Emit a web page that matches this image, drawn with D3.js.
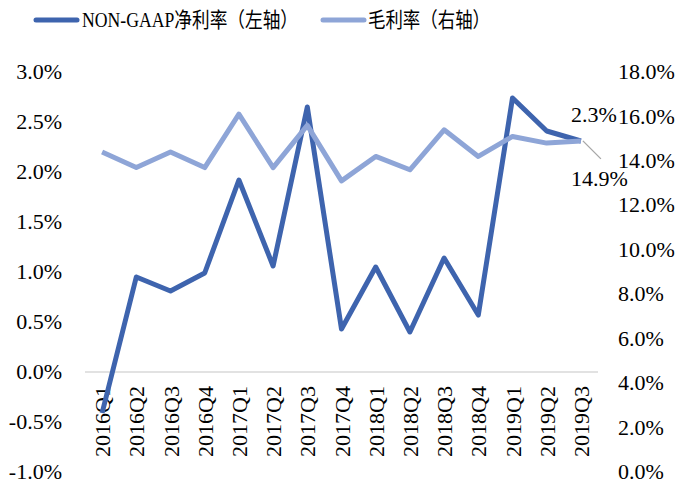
<!DOCTYPE html>
<html>
<head>
<meta charset="utf-8">
<script src="https://cdn.jsdelivr.net/npm/d3@7"></script>
<style>
  body { margin: 0; background: #fff; }
  svg text { font-family: "Liberation Serif", "Times New Roman", "DejaVu Serif", "Noto Sans CJK SC", serif; fill: #000; }
</style>
</head>
<body>
<svg id="chart" width="680" height="489"></svg>
<script>
const quarters = ["2016Q1", "2016Q2", "2016Q3", "2016Q4", "2017Q1", "2017Q2", "2017Q3", "2017Q4",
  "2018Q1", "2018Q2", "2018Q3", "2018Q4", "2019Q1", "2019Q2", "2019Q3"];
// NON-GAAP net margin, % (left axis)
const netMargin = [-0.41, 0.95, 0.81, 0.99, 1.92, 1.06, 2.65, 0.43, 1.05, 0.40, 1.14, 0.57, 2.74, 2.41, 2.31];
// gross margin, % (right axis)
const grossMargin = [14.4, 13.7, 14.4, 13.7, 16.1, 13.7, 15.6, 13.1, 14.2, 13.6, 15.4, 14.2, 15.1, 14.8, 14.9];
const leftTicks = [-1.0, -0.5, 0, 0.5, 1.0, 1.5, 2.0, 2.5, 3.0];
const rightTicks = [0, 2, 4, 6, 8, 10, 12, 14, 16, 18];
const legendNames = ["NON-GAAP净利率（左轴）", "毛利率（右轴）"];

const darkBlue = "#3e64ae";
const lightBlue = "#8ea5d7";
const serif = '"Liberation Serif", "Times New Roman", "DejaVu Serif", "Noto Sans CJK SC", serif';

const svg = d3.select("#chart");
const x = d3.scaleBand().domain(quarters).range([85, 598]);
const yL = d3.scaleLinear().domain([-1, 3]).range([472, 72]);
const yR = d3.scaleLinear().domain([0, 18]).range([472, 72]);
const cx = (d) => x(d) + x.bandwidth() / 2;

// zero line
svg.append("line")
  .attr("x1", 85).attr("x2", 598)
  .attr("y1", yL(0)).attr("y2", yL(0))
  .attr("stroke", "#d9d9d9").attr("stroke-width", 1.5);

// left axis
svg.append("g")
  .attr("transform", "translate(62,0)")
  .call(d3.axisLeft(yL).tickValues(leftTicks).tickSize(0).tickPadding(0)
    .tickFormat((d) => d.toFixed(1) + "%"))
  .call((g) => g.select(".domain").remove())
  .attr("font-family", serif)
  .selectAll("text")
  .attr("font-size", 22).attr("dy", "0.3em");

// right axis
svg.append("g")
  .attr("transform", "translate(618,0)")
  .call(d3.axisRight(yR).tickValues(rightTicks).tickSize(0).tickPadding(0)
    .tickFormat((d) => d.toFixed(1) + "%"))
  .call((g) => g.select(".domain").remove())
  .attr("font-family", serif)
  .selectAll("text")
  .attr("font-size", 22).attr("dy", "0.3em");

// category labels, rotated
svg.append("g")
  .selectAll("text")
  .data(quarters)
  .join("text")
  .attr("transform", (d) => `translate(${cx(d) + 8},386) rotate(-90)`)
  .attr("text-anchor", "end")
  .attr("font-size", 22)
  .text((d) => d);

// lines (gross margin drawn on top)
const lineL = d3.line().x((d, i) => cx(quarters[i])).y((d) => yL(d));
const lineR = d3.line().x((d, i) => cx(quarters[i])).y((d) => yR(d));

svg.append("path")
  .attr("d", lineL(netMargin))
  .attr("fill", "none").attr("stroke", darkBlue)
  .attr("stroke-width", 5).attr("stroke-linejoin", "round");

svg.append("path")
  .attr("d", lineR(grossMargin))
  .attr("fill", "none").attr("stroke", lightBlue)
  .attr("stroke-width", 5).attr("stroke-linejoin", "round");

// data labels for the last quarter
const last = quarters.length - 1;
const lx = cx(quarters[last]);
svg.append("text")
  .attr("x", lx - 10).attr("y", yL(netMargin[last]) - 19)
  .attr("font-size", 22)
  .text(netMargin[last].toFixed(1) + "%");

svg.append("line")
  .attr("x1", lx + 2).attr("y1", yR(grossMargin[last]))
  .attr("x2", lx + 20).attr("y2", yR(grossMargin[last]) + 18)
  .attr("stroke", "#a6a6a6").attr("stroke-width", 1.3);
svg.append("text")
  .attr("x", lx - 10).attr("y", yR(grossMargin[last]) + 45)
  .attr("font-size", 22)
  .text(grossMargin[last].toFixed(1) + "%");

// legend (text squeezed to the reference widths)
const legend = [
  { name: legendNames[0], color: darkBlue, x0: 36, w: 216 },
  { name: legendNames[1], color: lightBlue, x0: 323, w: 122 },
];
const lg = svg.append("g").selectAll("g").data(legend).join("g")
  .attr("transform", (d) => `translate(${d.x0},20)`);
lg.append("line")
  .attr("x1", 0).attr("x2", 41)
  .attr("stroke", (d) => d.color).attr("stroke-width", 5).attr("stroke-linecap", "round");
lg.append("text")
  .attr("x", (d, i) => (i === 0 ? 46 : 45))
  .attr("y", 7)
  .attr("font-size", 21)
  .attr("textLength", (d) => d.w)
  .attr("lengthAdjust", "spacingAndGlyphs")
  .text((d) => d.name);
</script>
</body>
</html>
